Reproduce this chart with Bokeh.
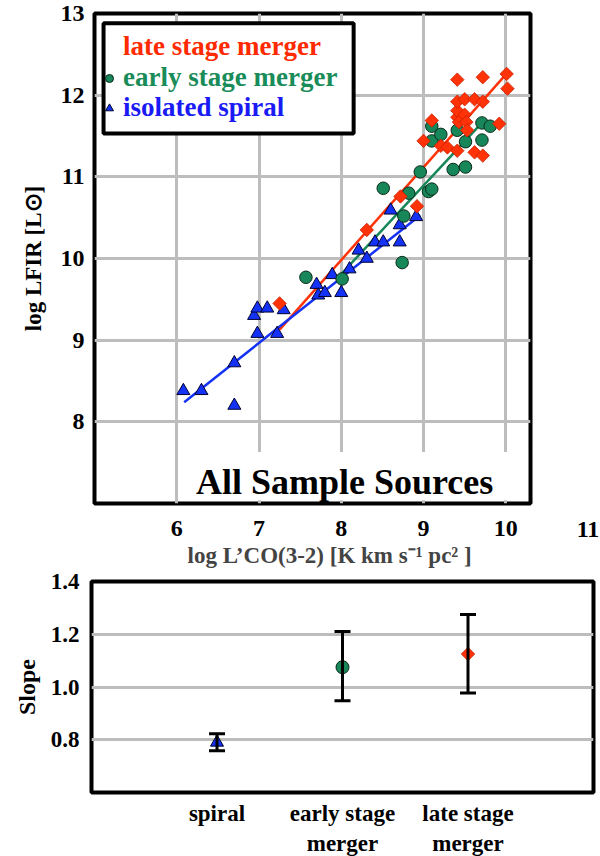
import math
from bokeh.plotting import figure
from bokeh.models import (Range1d, FixedTicker, Legend, LegendItem, BoxAnnotation, Label, Div,
                          ColumnDataSource, Whisker, TeeHead, FactorRange, PrintfTickFormatter, Title)
from bokeh.core.properties import value
from bokeh.layouts import column, row
from bokeh.embed import file_html
from bokeh.resources import INLINE

FONT = "Liberation Serif"

# ---------------- data: top panel ----------------
late_x = [7.25, 8.31, 8.72, 8.92, 9.00, 9.10, 9.21, 9.29, 9.41, 9.41, 9.41, 9.41, 9.41,
          9.43, 9.50, 9.50, 9.52, 9.53, 9.62, 9.62, 9.72, 9.72, 9.72, 9.92, 10.01, 10.02]
late_y = [9.45, 10.35, 10.76, 10.64, 11.44, 11.69, 11.38, 11.36, 11.32, 11.73, 11.81, 11.92, 12.19,
          11.67, 11.95, 11.76, 11.67, 11.57, 11.95, 11.30, 11.92, 12.22, 11.26, 11.65, 12.26, 12.08]

early_x = [7.57, 8.01, 8.51, 8.74, 8.76, 8.82, 8.96, 9.06, 9.10, 9.10, 9.10, 9.21, 9.36,
           9.41, 9.51, 9.51, 9.71, 9.71, 9.81]
early_y = [9.77, 9.75, 10.86, 9.95, 10.52, 10.80, 11.06, 10.82, 10.85, 11.62, 11.44, 11.52, 11.09,
           11.57, 11.12, 11.43, 11.66, 11.45, 11.62]

spiral_x = [6.08, 6.30, 6.70, 6.70, 6.94, 6.98, 7.10, 6.98, 7.22, 7.30, 7.70, 7.72, 7.80, 7.89,
            8.00, 8.10, 8.21, 8.31, 8.41, 8.51, 8.60, 8.71, 8.71, 8.91]
spiral_y = [8.38, 8.38, 8.72, 8.20, 9.30, 9.39, 9.39, 9.08, 9.08, 9.37, 9.68, 9.55, 9.58, 9.80,
            9.58, 9.87, 10.10, 10.00, 10.20, 10.20, 10.59, 10.20, 10.41, 10.51]

late_fit_x = [7.25, 9.98]
late_fit_y = [9.13, 12.23]
early_fit_x = [8.00, 9.68]
early_fit_y = [9.81, 11.63]
spiral_fit_x = [6.09, 8.96]
spiral_fit_y = [8.24, 10.53]

x_ticks = [6, 7, 8, 9, 10]
x_extra_tick = "11"
y_ticks = [8, 9, 10, 11, 12, 13]

# ---------------- data: bottom panel ----------------
slope_cats = ["spiral", "early stage\nmerger", "late stage\nmerger"]
slope_val = [0.79, 1.075, 1.125]
slope_hi = [0.823, 1.21, 1.275]
slope_lo = [0.758, 0.948, 0.977]
slope_ticks = [0.8, 1.0, 1.2, 1.4]

RED, RED_EDGE = "#ff3208", "#c82000"
GREEN, GREEN_EDGE = "#17875a", "#0a2a18"
BLUE, BLUE_EDGE = "#1432f5", "#000030"
RED_T, GREEN_T, BLUE_T = "#ff2a00", "#1a8c5a", "#1a1af5"
GRID = "#bdbdbd"


def style_axes(fig, size):
    for ax in fig.axis:
        ax.axis_line_color = None
        ax.major_tick_line_color = None
        ax.minor_tick_line_color = None
        ax.major_tick_out = 0
        ax.major_tick_in = 0
        ax.major_label_text_font = FONT
        ax.major_label_text_font_style = "bold"
        ax.major_label_text_font_size = size
        ax.major_label_text_color = "black"
        ax.axis_label_text_font = FONT
        ax.axis_label_text_font_style = "bold"
        ax.axis_label_text_color = "black"


# ================= top figure =================
p = figure(frame_width=436, frame_height=490, x_range=Range1d(5, 10.3), y_range=Range1d(7, 13),
           output_backend="svg", toolbar_location=None,
           min_border_left=94, min_border_right=46, min_border_top=13, min_border_bottom=66)
p.background_fill_color = "white"
p.border_fill_color = "white"
p.outline_line_color = "black"
p.outline_line_width = 4

p.xaxis.ticker = FixedTicker(ticks=x_ticks)
p.yaxis.ticker = FixedTicker(ticks=y_ticks)
p.xgrid.ticker = FixedTicker(ticks=x_ticks)
p.ygrid.ticker = FixedTicker(ticks=y_ticks)
for g in (p.xgrid, p.ygrid):
    g.grid_line_color = GRID
    g.grid_line_width = 3
style_axes(p, "24px")
p.xaxis.major_label_standoff = 17
p.yaxis.major_label_standoff = 10
p.yaxis.axis_label = "log LFIR [L\u2299]"
p.yaxis.axis_label_text_font_size = "23px"
p.yaxis.axis_label_standoff = 12

p.add_layout(Title(text="log L\u2019CO(3-2) [K km s\u207b\u00b9 pc\u00b2 ]", align="left", offset=93,
                   text_font=FONT, text_font_style="bold", text_font_size="23px",
                   standoff=4), "below")

# fit lines
p.line(late_fit_x, late_fit_y, line_color=RED, line_width=2.5)
p.line(early_fit_x, early_fit_y, line_color=GREEN, line_width=2.5)
p.line(spiral_fit_x, spiral_fit_y, line_color=BLUE, line_width=2.5)

# scatter points
r_spiral = p.scatter(spiral_x, spiral_y, marker="triangle", size=13, fill_color=BLUE,
                     line_color=BLUE_EDGE, line_width=1)
r_early = p.scatter(early_x, early_y, marker="circle", size=12.5, fill_color=GREEN,
                    line_color=GREEN_EDGE, line_width=1)
r_late = p.scatter(late_x, late_y, marker="square", angle=math.pi / 4, size=9.5, fill_color=RED,
                   line_color=RED_EDGE, line_width=0.8)
# empty renderer used only for the legend symbol
r_late_leg = p.scatter([], [], marker="diamond", size=10, fill_color=RED, line_color=RED_EDGE,
                       line_width=0.8)

# "All Sample Sources" with white background
p.add_layout(BoxAnnotation(left=6.06, right=10.27, bottom=7.04, top=7.63, fill_color="white",
                           fill_alpha=1, line_alpha=0))
p.add_layout(Label(x=8.04, y=7.26, text="All Sample Sources", text_align="center",
                   text_baseline="middle", text_font=FONT, text_font_style="bold",
                   text_font_size="36px", text_color="black"))

# legend box
p.add_layout(BoxAnnotation(left=5.11, right=8.15, bottom=11.53, top=12.88, fill_color="white",
                           fill_alpha=1, line_color="black", line_alpha=1, line_width=4))


def mk_legend(label, renderer, color, y):
    lg = Legend(items=[LegendItem(label=value(label), renderers=[renderer])],
                location=(5, y), orientation="vertical",
                label_text_font=FONT, label_text_font_style="bold", label_text_font_size="27px",
                label_text_color=color, glyph_width=20, glyph_height=20, label_standoff=4,
                padding=0, margin=0, spacing=0, border_line_alpha=0, background_fill_alpha=0,
                label_height=20)
    p.add_layout(lg)


mk_legend("late stage merger", r_late_leg, RED_T, 441)
mk_legend("early stage merger", r_early, GREEN_T, 410)
mk_legend("isolated spiral", r_spiral, BLUE_T, 380)

# the "11" tick label of the reference lies beyond the frame's right edge
eleven = Div(text=x_extra_tick, width=24, height=28, margin=(515, 0, 0, 0),
             styles={"font-family": "'Liberation Serif', serif", "font-weight": "bold",
                     "font-size": "24px", "line-height": "28px", "text-align": "center",
                     "color": "black"})

# ================= bottom figure =================
q = figure(frame_width=502, frame_height=211,
           x_range=FactorRange(factors=slope_cats, range_padding=0.5, range_padding_units="absolute"),
           y_range=Range1d(0.6, 1.4),
           output_backend="svg", toolbar_location=None,
           min_border_left=91, min_border_right=7, min_border_top=12, min_border_bottom=62)
q.background_fill_color = "white"
q.border_fill_color = "white"
q.outline_line_color = "black"
q.outline_line_width = 4
q.xgrid.grid_line_color = None
q.yaxis.ticker = FixedTicker(ticks=slope_ticks)
q.ygrid.ticker = FixedTicker(ticks=slope_ticks)
q.ygrid.grid_line_color = GRID
q.ygrid.grid_line_width = 3
q.yaxis.formatter = PrintfTickFormatter(format="%.1f")
style_axes(q, "23px")
q.yaxis.major_label_standoff = 12
q.xaxis.major_label_standoff = 8
q.yaxis.axis_label = "Slope"
q.yaxis.axis_label_text_font_size = "24px"
q.yaxis.axis_label_standoff = 8

src = ColumnDataSource(data=dict(cat=slope_cats, val=slope_val, hi=slope_hi, lo=slope_lo))
q.add_layout(Whisker(source=src, base="cat", upper="hi", lower="lo", dimension="height",
                     line_color="black", line_width=3,
                     upper_head=TeeHead(size=16, line_width=3, line_color="black"),
                     lower_head=TeeHead(size=16, line_width=3, line_color="black"),
                     level="glyph"))
q.scatter([slope_cats[0]], [slope_val[0]], marker="triangle", size=13, fill_color=BLUE,
          line_color=BLUE_EDGE, line_width=1)
q.scatter([slope_cats[1]], [slope_val[1]], marker="circle", size=13, fill_color=GREEN,
          line_color=GREEN_EDGE, line_width=1)
q.scatter([slope_cats[2]], [slope_val[2]], marker="square", angle=math.pi / 4, size=9.5,
          fill_color=RED, line_color=RED_EDGE, line_width=0.8)

layout = column(row(p, eleven), q)
open("out.html", "w").write(file_html(layout, INLINE))
